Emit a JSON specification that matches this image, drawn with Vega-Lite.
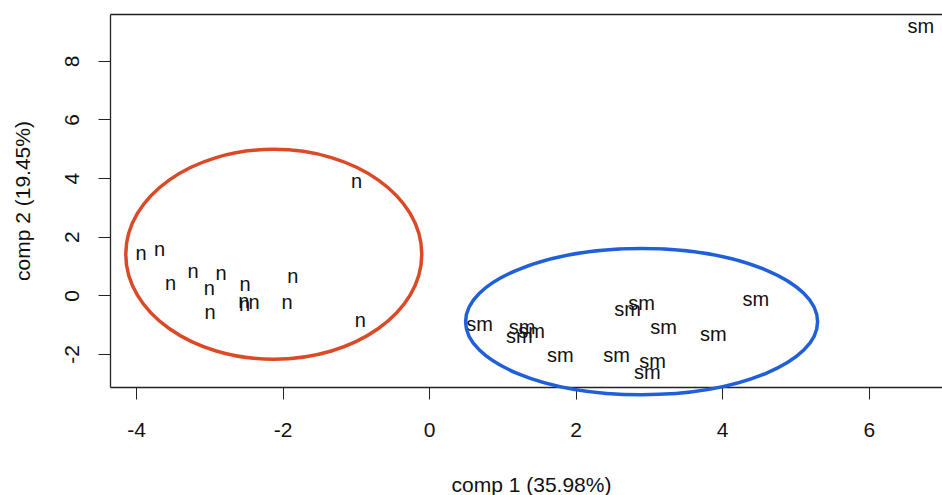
{
  "$schema": "https://vega.github.io/schema/vega-lite/v6.json",
  "width": 832,
  "height": 373,
  "autosize": "none",
  "padding": {"left": 110, "top": 14, "right": 0, "bottom": 108},
  "background": "white",
  "config": {
    "view": {"stroke": null},
    "font": "Liberation Sans",
    "axis": {
      "grid": false,
      "domainColor": "#222",
      "domainWidth": 1.3,
      "tickColor": "#222",
      "tickWidth": 1,
      "tickSize": 12,
      "labelFont": "Liberation Sans",
      "labelFontSize": 21,
      "labelColor": "#111",
      "titleFont": "Liberation Sans",
      "titleFontSize": 21,
      "titleFontWeight": "normal",
      "titleColor": "#111"
    }
  },
  "datasets": {
    "scores": [
      {"comp1": -0.99, "comp2": 3.86, "label": "n"},
      {"comp1": -3.93, "comp2": 1.40, "label": "n"},
      {"comp1": -3.68, "comp2": 1.53, "label": "n"},
      {"comp1": -3.53, "comp2": 0.40, "label": "n"},
      {"comp1": -3.22, "comp2": 0.79, "label": "n"},
      {"comp1": -2.84, "comp2": 0.74, "label": "n"},
      {"comp1": -3.00, "comp2": 0.20, "label": "n"},
      {"comp1": -2.51, "comp2": 0.36, "label": "n"},
      {"comp1": -1.86, "comp2": 0.61, "label": "n"},
      {"comp1": -2.53, "comp2": -0.23, "label": "n"},
      {"comp1": -2.52, "comp2": -0.34, "label": "n"},
      {"comp1": -2.39, "comp2": -0.28, "label": "n"},
      {"comp1": -1.94, "comp2": -0.28, "label": "n"},
      {"comp1": -2.99, "comp2": -0.62, "label": "n"},
      {"comp1": -0.94, "comp2": -0.87, "label": "n"},
      {"comp1": 0.69, "comp2": -1.00, "label": "sm"},
      {"comp1": 1.27, "comp2": -1.13, "label": "sm"},
      {"comp1": 1.40, "comp2": -1.25, "label": "sm"},
      {"comp1": 1.23, "comp2": -1.42, "label": "sm"},
      {"comp1": 1.79, "comp2": -2.07, "label": "sm"},
      {"comp1": 2.56, "comp2": -2.07, "label": "sm"},
      {"comp1": 2.71, "comp2": -0.49, "label": "sm"},
      {"comp1": 2.90, "comp2": -0.31, "label": "sm"},
      {"comp1": 3.20, "comp2": -1.11, "label": "sm"},
      {"comp1": 3.05, "comp2": -2.29, "label": "sm"},
      {"comp1": 2.98, "comp2": -2.65, "label": "sm"},
      {"comp1": 3.88, "comp2": -1.36, "label": "sm"},
      {"comp1": 4.46, "comp2": -0.17, "label": "sm"},
      {"comp1": 6.71, "comp2": 9.14, "label": "sm"}
    ],
    "groups": [
      {"group": "n", "comp1": -2.12, "comp2": 1.40},
      {"group": "sm", "comp1": 2.90, "comp2": -0.90}
    ]
  },
  "resolve": {"axis": {"x": "independent", "y": "independent"}},
  "layer": [
    {
      "data": {"name": "scores"},
      "mark": {"type": "text", "fontSize": 20, "font": "Liberation Sans", "align": "center", "baseline": "middle", "color": "#111"},
      "encoding": {
        "x": {
          "field": "comp1", "type": "quantitative",
          "scale": {"domain": [-4.355, 7.0], "nice": false, "zero": false},
          "axis": {
            "orient": "bottom",
            "values": [-4, -2, 0, 2, 4, 6],
            "labelExpr": "'' + datum.value",
            "labelPadding": 20,
            "labelBaseline": "top",
            "title": "comp 1 (35.98%)",
            "titleX": 421,
            "titleY": 104,
            "titleAlign": "center",
            "titleBaseline": "alphabetic"
          }
        },
        "y": {
          "field": "comp2", "type": "quantitative",
          "scale": {"domain": [-3.13, 9.6], "nice": false, "zero": false},
          "axis": {
            "orient": "left",
            "values": [-2, 0, 2, 4, 6, 8],
            "labelExpr": "'' + datum.value",
            "labelAngle": 270,
            "labelAlign": "center",
            "labelBaseline": "middle",
            "labelPadding": 26,
            "title": "comp 2 (19.45%)",
            "titleAngle": 270,
            "titleX": -80.5,
            "titleY": 186.5,
            "titleAlign": "center",
            "titleBaseline": "alphabetic"
          }
        },
        "text": {"field": "label"}
      }
    },
    {
      "data": {"name": "groups"},
      "transform": [{"filter": "datum.group === 'n'"}],
      "mark": {
        "type": "point",
        "shape": "M -1 0 A 1 0.709 0 1 1 1 0 A 1 0.709 0 1 1 -1 0 Z",
        "filled": false,
        "size": 87616,
        "stroke": "#DB4A26",
        "strokeWidth": 3.5,
        "opacity": 1
      },
      "encoding": {
        "x": {
          "field": "comp1", "type": "quantitative",
          "axis": {"orient": "top", "ticks": false, "labels": false, "title": null, "domain": true}
        },
        "y": {"field": "comp2", "type": "quantitative", "axis": null}
      }
    },
    {
      "data": {"name": "groups"},
      "transform": [{"filter": "datum.group === 'sm'"}],
      "mark": {
        "type": "point",
        "shape": "M -1 0 A 1 0.415 0 1 1 1 0 A 1 0.415 0 1 1 -1 0 Z",
        "filled": false,
        "size": 123904,
        "stroke": "#1F5FD9",
        "strokeWidth": 3.5,
        "opacity": 1
      },
      "encoding": {
        "x": {"field": "comp1", "type": "quantitative", "axis": null},
        "y": {"field": "comp2", "type": "quantitative", "axis": null}
      }
    }
  ]
}
